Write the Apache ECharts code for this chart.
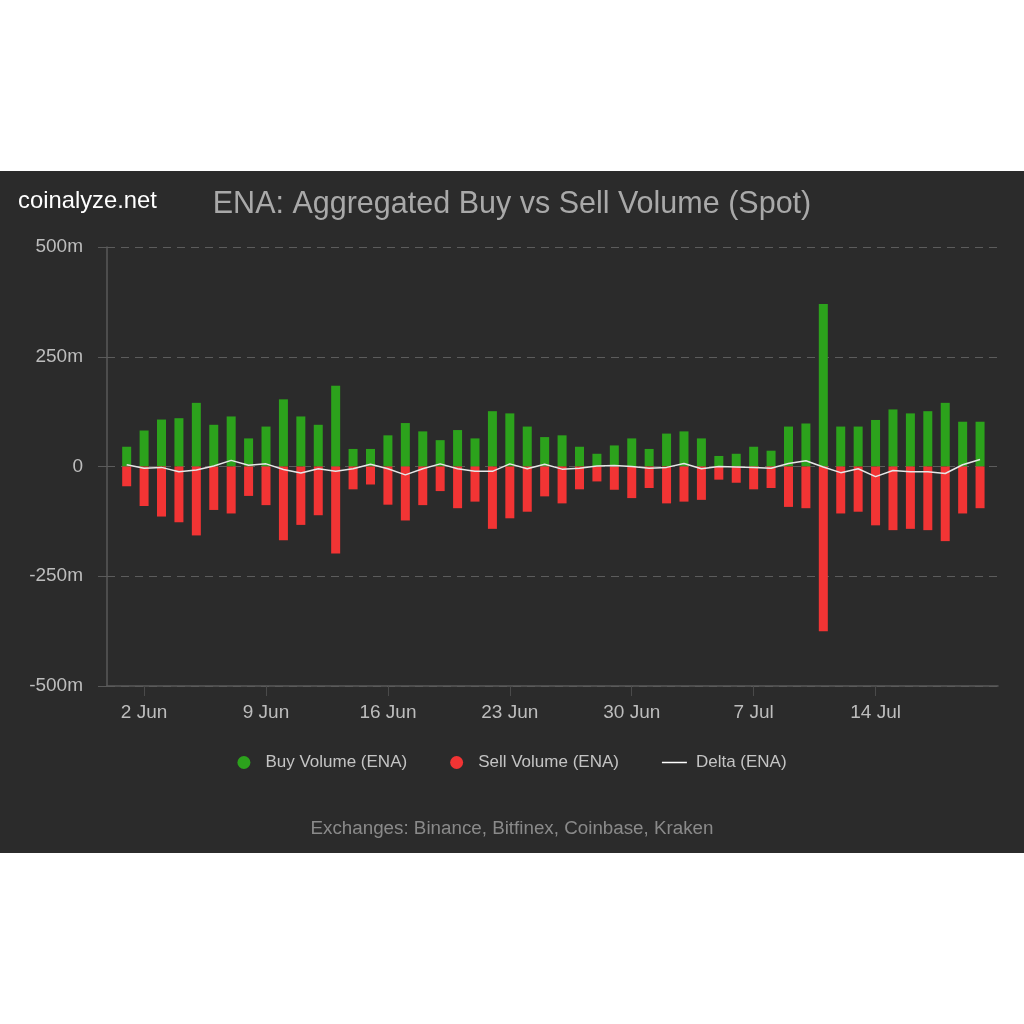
<!DOCTYPE html>
<html>
<head>
<meta charset="utf-8">
<script src="https://cdn.jsdelivr.net/npm/echarts@6/dist/echarts.min.js"></script>
<style>
html,body{margin:0;padding:0;background:#ffffff;width:1024px;height:1024px;overflow:hidden;}
#chart{position:absolute;left:0;top:171px;width:1024px;height:682px;background:#2b2b2b;}
</style>
</head>
<body>
<div id="chart"></div>
<script>
// Dates (1 Jun .. 20 Jul)
const dates = ['1 Jun','2 Jun','3 Jun','4 Jun','5 Jun','6 Jun','7 Jun','8 Jun','9 Jun','10 Jun',
  '11 Jun','12 Jun','13 Jun','14 Jun','15 Jun','16 Jun','17 Jun','18 Jun','19 Jun','20 Jun',
  '21 Jun','22 Jun','23 Jun','24 Jun','25 Jun','26 Jun','27 Jun','28 Jun','29 Jun','30 Jun',
  '1 Jul','2 Jul','3 Jul','4 Jul','5 Jul','6 Jul','7 Jul','8 Jul','9 Jul','10 Jul',
  '11 Jul','12 Jul','13 Jul','14 Jul','15 Jul','16 Jul','17 Jul','18 Jul','19 Jul','20 Jul'];
// Buy volume (millions)
const buyVolume = [45,82,107,110,145,95,114,64,91,153,
  114,95,184,40,40,71,99,80,60,83,
  64,126,121,91,67,71,45,29,48,64,
  40,75,80,64,24,29,45,36,91,98,
  370,91,91,106,130,121,126,145,102,102];
// Sell volume (millions, shown below zero)
const sellVolume = [45,90,114,127,157,99,107,67,88,168,
  133,111,198,52,41,87,123,88,56,95,
  80,142,118,103,68,84,52,34,53,72,
  49,84,80,76,30,37,52,49,92,95,
  375,107,103,134,145,142,145,170,107,95];
// Delta (millions)
const deltaValues = [4,-4,-2,-12,-8,1,14,3,6,-7,
  -15,-5,-11,-5,5,-5,-19,-5,6,-5,
  -11,-11,6,-5,5,-6,-4,1,2,0,
  -4,-2,7,-5,0,-1,-2,-4,7,13,
  -1,-14,-5,-23,-9,-12,-12,-16,4,16];
const yTicks = [-500,-250,0,250,500];
const xLabelDates = ['2 Jun','9 Jun','16 Jun','23 Jun','30 Jun','7 Jul','14 Jul'];

const xLabelIdx = xLabelDates.map(d => dates.indexOf(d));
const buyData = buyVolume.map((v,i)=>[i,v]);
const sellData = sellVolume.map((v,i)=>[i,-v]);
const deltaData = deltaValues.map((v,i)=>[i,v]);

const FONT = 'Liberation Sans, Arial, sans-serif';
const chart = echarts.init(document.getElementById('chart'), null, {renderer:'canvas'});
chart.setOption({
  backgroundColor:'#2b2b2b',
  animation:false,
  textStyle:{fontFamily:FONT},
  title:[
    {text:'ENA: Aggregated Buy vs Sell Volume (Spot)', left:'center', top:13,
     textStyle:{color:'#a9a9a9', fontSize:30.5, fontWeight:'normal', fontFamily:FONT}},
    {text:'coinalyze.net', left:13, top:13,
     textStyle:{color:'#ffffff', fontSize:23.8, fontWeight:'normal', fontFamily:FONT}},
    {text:'Exchanges: Binance, Bitfinex, Coinbase, Kraken', left:'center', top:643,
     textStyle:{color:'#8a8a8a', fontSize:18.8, fontWeight:'normal', fontFamily:FONT}}
  ],
  legend:{
    top:578, left:'center', itemGap:43, itemWidth:25, itemHeight:13,
    textStyle:{color:'#c4c4c4', fontSize:17, fontFamily:FONT, padding:[0,0,0,4]},
    data:[
      {name:'Buy Volume (ENA)', icon:'circle'},
      {name:'Sell Volume (ENA)', icon:'circle'},
      {name:'Delta (ENA)', icon:'path://M0,6 L25,6 L25,7.5 L0,7.5 Z', itemStyle:{color:'#ffffff'}}
    ]
  },
  grid:{left:107, right:26, top:76, bottom:167, containLabel:false},
  xAxis:{
    type:'value', min:-1.13, max:50.03,
    axisLine:{show:true, onZero:false, lineStyle:{color:'#5a5a5a', width:1.5}},
    axisTick:{show:true, customValues:xLabelIdx, length:10, lineStyle:{color:'#4a4a4a'}},
    axisLabel:{customValues:xLabelIdx, color:'#bdbdbd', fontSize:19, margin:17, fontFamily:FONT,
      formatter:(v)=>dates[Math.round(v)] || ''},
    splitLine:{show:false}
  },
  yAxis:{
    type:'value', min:-500, max:500, interval:250,
    axisLine:{show:true, onZero:false, lineStyle:{color:'#5a5a5a', width:1.5}},
    axisTick:{show:true, length:9, lineStyle:{color:'#5a5a5a'}},
    axisLabel:{color:'#bdbdbd', fontSize:19, margin:24, fontFamily:FONT,
      formatter:(v)=> v===0 ? '0' : v + 'm'},
    splitLine:{show:true, lineStyle:{color:'#5c5c5c', type:[8,6], width:1.2}}
  },
  series:[
    {name:'Buy Volume (ENA)', type:'bar', data:buyData, barWidth:9, barGap:'-100%',
     itemStyle:{color:'#2ca21c'}},
    {name:'Sell Volume (ENA)', type:'bar', data:sellData, barWidth:9, barGap:'-100%',
     itemStyle:{color:'#f23434'}},
    {name:'Delta (ENA)', type:'line', data:deltaData, showSymbol:false, symbol:'none',
     lineStyle:{color:'#e6e6e6', width:1.5}, itemStyle:{color:'#ffffff'}, z:5}
  ]
});
</script>
</body>
</html>
